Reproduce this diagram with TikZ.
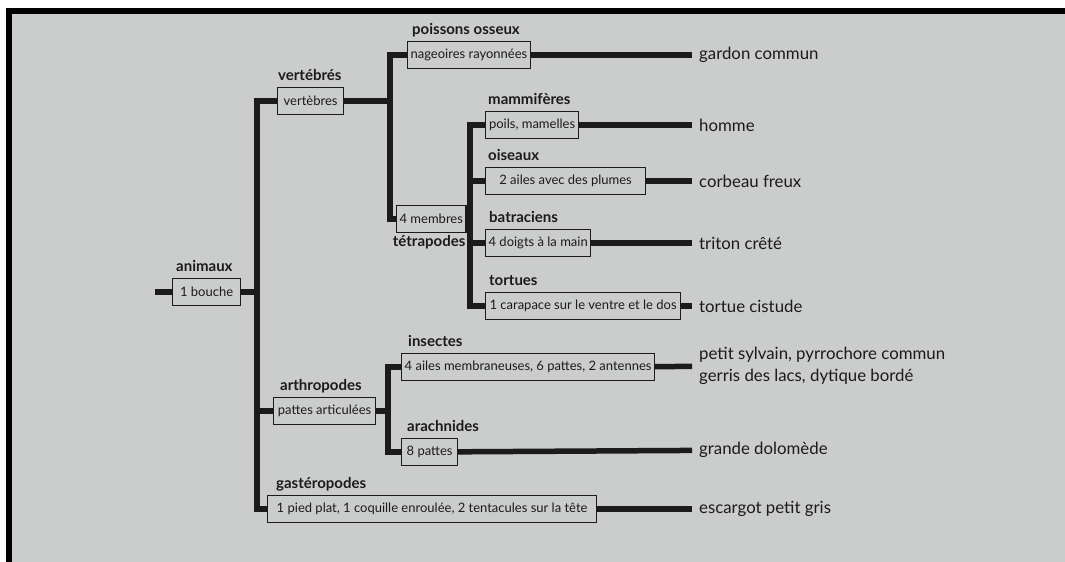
\documentclass[tikz,border=0pt]{standalone}
\usepackage{fontspec}
\setmainfont{Lato}
\usetikzlibrary{positioning}
\definecolor{papier}{RGB}{203,204,204}
\definecolor{encre}{RGB}{28,26,26}
\begin{document}
\begin{tikzpicture}[x=1bp, y=-1bp]
  \useasboundingbox (0,0) rectangle (1065,562);
  \fill [white] (0,0) rectangle (1065,562);
  \fill [papier] (12,14) rectangle (1065,562);  % Papier + Rahmen.
  \fill [black] (6,8) rectangle (1065,14);
  \fill [black] (6,8) rectangle (12,562);
  \tikzstyle{trait}=[draw=encre, line width=1.2bp, inner xsep=3bp, minimum height=27bp, text=encre, font=\fontsize{13bp}{15bp}\selectfont, anchor=west]
  \tikzstyle{groupe}=[text=encre, font=\bfseries\fontsize{15bp}{17bp}\selectfont, inner sep=0pt, text height=10.5bp, text depth=3bp]
  \tikzstyle{espece}=[text=encre, font=\fontsize{16.8bp}{22bp}\selectfont, inner xsep=7bp, inner ysep=0pt, anchor=west, align=left]
  \tikzstyle{branche}=[draw=encre, line width=5.5bp]

  \node[trait, minimum width=68bp]  (bouche)       at (172, 292) {1 bouche};
  \node[trait, minimum width=66bp]  (vertebres)    at (277, 101) {vertèbres};
  \node[trait, minimum width=118bp] (nageoires)    at (407, 55)  {nageoires rayonnées};
  \node[trait, minimum width=67bp]  (membres)      at (396, 219) {4 membres};
  \node[trait, minimum width=93bp]  (poils)        at (485, 125) {poils, mamelles};
  \node[trait, minimum width=160bp] (ailes)        at (485, 181) {2 ailes avec des plumes};
  \node[trait, minimum width=103bp] (doigts)       at (485, 243) {4 doigts à la main};
  \node[trait, minimum width=195bp] (carapace)     at (485, 306) {1 carapace sur le ventre et le dos};
  \node[trait, minimum width=102bp] (articulees)   at (273, 411) {pattes articulées};
  \node[trait, minimum width=253bp] (membraneuses) at (401, 367) {4 ailes membraneuses, 6 pattes, 2 antennes};
  \node[trait, minimum width=56bp]  (huit)         at (401, 452) {8 pattes};
  \node[trait, minimum width=329bp] (coquille)     at (267, 509) {1 pied plat, 1 coquille enroulée, 2 tentacules sur la tête};

  \node[groupe, above right=3bp and 4bp of bouche.north west]       (animaux)   {animaux};
  \node[groupe, above right=3bp and 1bp of vertebres.north west]    (vertebres-l) {vertébrés};
  \node[groupe, above right=3bp and 5bp of nageoires.north west]    (poissons)  {poissons osseux};
  \node[groupe, below left=3bp and 1bp of membres.south east]       (tetrapodes) {tétrapodes};
  \node[groupe, above right=3bp and 3bp of poils.north west]        (mammiferes) {mammifères};
  \node[groupe, above right=3bp and 3bp of ailes.north west]        (oiseaux)   {oiseaux};
  \node[groupe, above right=3bp and 4bp of doigts.north west]       (batraciens) {batraciens};
  \node[groupe, above right=3bp and 4bp of carapace.north west]     (tortues)   {tortues};
  \node[groupe, above right=3bp and 7bp of articulees.north west]   (arthropodes) {arthropodes};
  \node[groupe, above right=3bp and 7bp of membraneuses.north west] (insectes)  {insectes};
  \node[groupe, above right=3bp and 6bp of huit.north west]         (arachnides) {arachnides};
  \node[groupe, above right=3bp and 9bp of coquille.north west]     (gasteropodes) {gastéropodes};

  \node[espece] (gardon)   at (692, 55)  {gardon commun};
  \node[espece] (homme)    at (692, 125) {homme};
  \node[espece] (corbeau)  at (692, 181) {corbeau freux};
  \node[espece] (triton)   at (692, 243) {triton crêté};
  \node[espece] (tortue)   at (692, 306) {tortue cistude};
  \node[espece] (sylvain)  at (692, 366) {petit sylvain, pyrrochore commun\\gerris des lacs, dytique bordé};
  \node[espece] (dolomede) at (692, 450) {grande dolomède};
  \node[espece] (escargot) at (692, 509) {escargot petit gris};

  \coordinate (racine) at (155, 292);
  \coordinate (t0) at (257, 292);
  \coordinate (t1) at (390, 101);
  \coordinate (t2) at (470, 219);
  \coordinate (t3) at (388, 411);

  \draw[branche] (racine) -- (bouche.west);
  \draw[branche] (bouche.east) -- (t0);
  \draw[branche] (t0) |- (vertebres.west);
  \draw[branche] (t0) |- (articulees.west);
  \draw[branche] (t0) |- (coquille.west);

  \draw[branche] (vertebres.east) -- (t1);
  \draw[branche] (t1) |- (nageoires.west);
  \draw[branche] (t1) |- (membres.west);

  \draw[branche] (membres.east) -- (t2);
  \draw[branche] (t2) |- (poils.west);
  \draw[branche] (t2) |- (ailes.west);
  \draw[branche] (t2) |- (doigts.west);
  \draw[branche] (t2) |- (carapace.west);

  \draw[branche] (articulees.east) -- (t3);
  \draw[branche] (t3) |- (membraneuses.west);
  \draw[branche] (t3) |- (huit.west);

  \path[branche] (nageoires) edge (gardon);
  \path[branche] (poils) edge (homme);
  \path[branche] (ailes) edge (corbeau);
  \path[branche] (doigts) edge (triton);
  \path[branche] (carapace) edge (tortue);
  \path[branche] (membraneuses) edge (sylvain);
  \path[branche] (huit) edge (dolomede);
  \path[branche] (coquille) edge (escargot);
\end{tikzpicture}
\end{document}
